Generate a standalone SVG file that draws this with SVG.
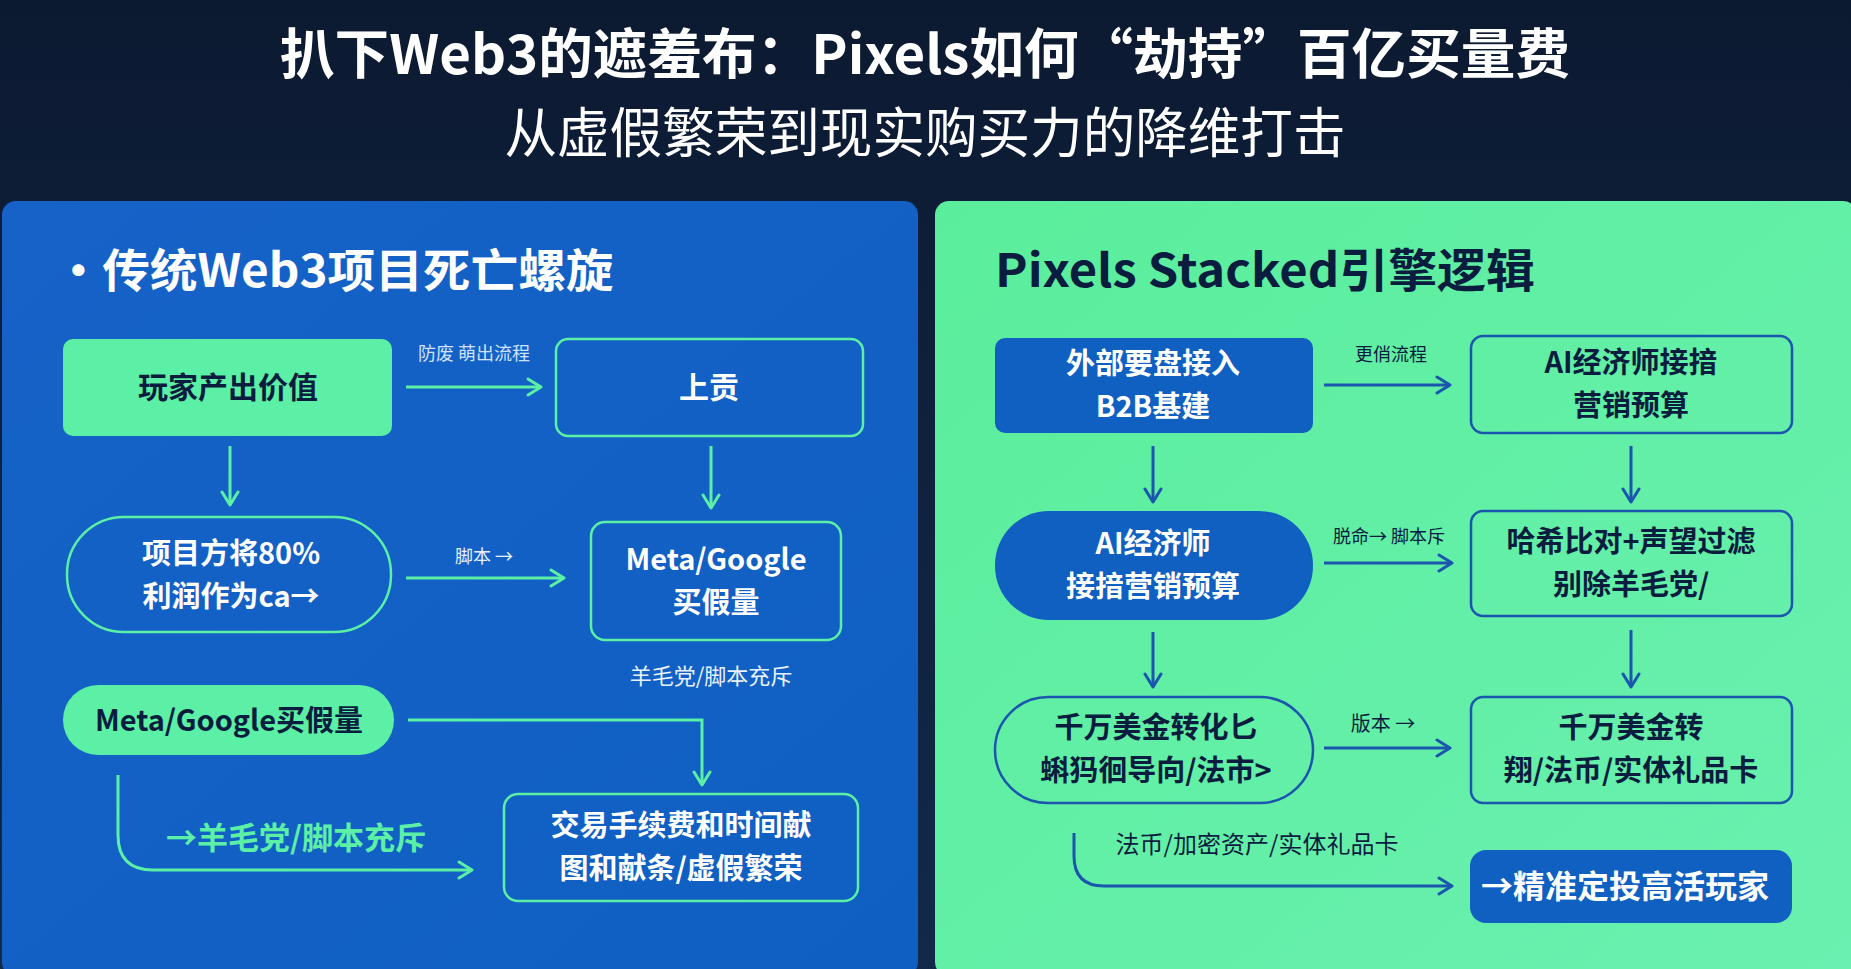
<svg xmlns="http://www.w3.org/2000/svg" width="1851" height="969" viewBox="0 0 1851 969">
<defs>
<linearGradient id="bg" x1="0" y1="0" x2="0" y2="1">
<stop offset="0" stop-color="#0c1a31"/>
<stop offset="1" stop-color="#12294a"/>
</linearGradient>
<linearGradient id="lp" x1="0" y1="0" x2="1" y2="1">
<stop offset="0" stop-color="#1662c8"/>
<stop offset="1" stop-color="#0f5fc2"/>
</linearGradient>
<linearGradient id="rp" x1="0" y1="0" x2="1" y2="1">
<stop offset="0" stop-color="#5aee9c"/>
<stop offset="1" stop-color="#6af0b0"/>
</linearGradient>
<marker id="ag" viewBox="0 0 20 20" refX="17" refY="10" markerWidth="20" markerHeight="20" markerUnits="userSpaceOnUse" orient="auto">
<path d="M4,2 L17,10 L4,18" fill="none" stroke="#5cf0a6" stroke-width="3" stroke-linecap="round" stroke-linejoin="round"/>
</marker>
<marker id="ab" viewBox="0 0 20 20" refX="17" refY="10" markerWidth="20" markerHeight="20" markerUnits="userSpaceOnUse" orient="auto">
<path d="M4,2 L17,10 L4,18" fill="none" stroke="#1a56ad" stroke-width="3" stroke-linecap="round" stroke-linejoin="round"/>
</marker>
</defs>
<style>
text{font-family:"Noto Sans CJK SC","Noto Sans",sans-serif;text-anchor:middle}
.t{font-weight:700;fill:#ffffff}
.b{font-weight:700}
.w{fill:#ffffff}
.d{fill:#0b1d3e}
.n{font-size:30px;font-weight:700}
.m{font-size:29px;font-weight:700}
.s{font-size:18px}
.gl{fill:none;stroke:#5cf0a6;stroke-width:3}
.bl{fill:none;stroke:#1a56ad;stroke-width:3}
.lbox{fill:none;stroke:#5cf0a6;stroke-width:2.5}
.rbox{fill:none;stroke:#1a56ad;stroke-width:2.5}
</style>
<rect x="0" y="0" width="1851" height="969" fill="url(#bg)"/>
<text class="t" x="925" y="74" font-size="54" textLength="1290" lengthAdjust="spacingAndGlyphs">扒下Web3的遮羞布：Pixels如何“劫持”百亿买量费</text>
<text class="w" x="925" y="153" font-size="54" textLength="841" lengthAdjust="spacingAndGlyphs">从虚假繁荣到现实购买力的降维打击</text>

<rect x="2" y="201" width="916" height="775" rx="14" fill="url(#lp)"/>
<rect x="935" y="201" width="922" height="775" rx="14" fill="url(#rp)"/>

<text class="t" x="334" y="287" font-size="46" textLength="559" lengthAdjust="spacingAndGlyphs">•传统Web3项目死亡螺旋</text>
<text class="b d" x="1265" y="287" font-size="46" textLength="540" lengthAdjust="spacingAndGlyphs">Pixels Stacked引擎逻辑</text>

<g id="connectors">
<line class="gl" x1="406" y1="387" x2="541" y2="387" marker-end="url(#ag)"/>
<line class="gl" x1="230" y1="446" x2="230" y2="505" marker-end="url(#ag)"/>
<line class="gl" x1="711" y1="446" x2="711" y2="508" marker-end="url(#ag)"/>
<line class="gl" x1="406" y1="578" x2="564" y2="578" marker-end="url(#ag)"/>
<path class="gl" d="M408,720 L702,720 L702,785" marker-end="url(#ag)"/>
<path class="gl" d="M118,775 L118,835 Q118,870 153,870 L472,870" marker-end="url(#ag)"/>
<text class="s" x="474" y="360" fill="#cfe2ff">防废 萌出流程</text>
<text class="s" x="484" y="563" fill="#e6f0ff">脚本 →</text>
<text x="711" y="684" font-size="22" fill="#e8f2ff">羊毛党/脚本充斥</text>
<text class="b" x="296" y="849" font-size="31" fill="#5cf0a6">→羊毛党/脚本充斥</text>

<line class="bl" x1="1324" y1="385" x2="1450" y2="385" marker-end="url(#ab)"/>
<line class="bl" x1="1153" y1="446" x2="1153" y2="502" marker-end="url(#ab)"/>
<line class="bl" x1="1631" y1="446" x2="1631" y2="502" marker-end="url(#ab)"/>
<line class="bl" x1="1324" y1="563" x2="1452" y2="563" marker-end="url(#ab)"/>
<line class="bl" x1="1153" y1="632" x2="1153" y2="687" marker-end="url(#ab)"/>
<line class="bl" x1="1631" y1="630" x2="1631" y2="687" marker-end="url(#ab)"/>
<line class="bl" x1="1324" y1="748" x2="1450" y2="748" marker-end="url(#ab)"/>
<path class="bl" d="M1074,833 L1074,856 Q1074,886 1104,886 L1452,886" marker-end="url(#ab)"/>
<text class="s d" x="1391" y="361">更俏流程</text>
<text class="s d" x="1389" y="543">脱命→ 脚本斥</text>
<text x="1383" y="731" font-size="20" class="d">版本 →</text>
<text x="1257" y="853" font-size="24" class="d">法币/加密资产/实体礼品卡</text>
</g>

<g id="n-player">
<rect x="63" y="339" width="329" height="97" rx="10" fill="#5cf0a6"/>
<text class="n d" x="228" y="398">玩家产出价值</text>
</g>
<g id="n-tribute">
<rect class="lbox" x="556" y="339" width="307" height="97" rx="12" fill="#135dc0"/>
<text class="n w" x="709" y="398">上贡</text>
</g>
<g id="n-project">
<rect class="lbox" x="67" y="517" width="324" height="115" rx="57"/>
<text class="m w" x="231" y="564">项目方将80%</text>
<text class="m w" x="231" y="607">利润作为ca→</text>
</g>
<g id="n-meta1">
<rect class="lbox" x="591" y="522" width="250" height="118" rx="14"/>
<text class="m w" x="716" y="570">Meta/Google</text>
<text class="m w" x="716" y="613">买假量</text>
</g>
<g id="n-meta2">
<rect x="63" y="685" width="331" height="70" rx="35" fill="#5cf0a6"/>
<text class="d" x="229" y="731" font-size="29" font-weight="700">Meta/Google买假量</text>
</g>
<g id="n-fee">
<rect class="lbox" x="504" y="794" width="354" height="107" rx="14"/>
<text class="m w" x="681" y="836">交易手续费和时间献</text>
<text class="m w" x="681" y="879">图和献条/虚假繁荣</text>
</g>

<g id="n-b2b">
<rect x="995" y="338" width="318" height="95" rx="10" fill="#1060c2"/>
<text class="m w" x="1153" y="374">外部要盘接入</text>
<text class="m w" x="1153" y="417">B2B基建</text>
</g>
<g id="n-ai1">
<rect class="rbox" x="1471" y="336" width="321" height="97" rx="12"/>
<text class="m d" x="1631" y="373">AI经济师接揞</text>
<text class="m d" x="1631" y="416">营销预算</text>
</g>
<g id="n-ai2">
<rect x="995" y="511" width="318" height="109" rx="54" fill="#1060c2"/>
<text class="m w" x="1153" y="554">AI经济师</text>
<text class="m w" x="1153" y="597">接揞营销预算</text>
</g>
<g id="n-hash">
<rect class="rbox" x="1471" y="511" width="321" height="105" rx="12"/>
<text class="m d" x="1631" y="552">哈希比对+声望过滤</text>
<text class="m d" x="1631" y="595">别除羊毛党/</text>
</g>
<g id="n-conv1">
<rect class="rbox" x="995" y="697" width="318" height="106" rx="53"/>
<text class="m d" x="1156" y="738">千万美金转化匕</text>
<text class="m d" x="1156" y="781">蝌犸徊导向/法市&gt;</text>
</g>
<g id="n-conv2">
<rect class="rbox" x="1471" y="697" width="321" height="106" rx="12"/>
<text class="m d" x="1631" y="738">千万美金转</text>
<text class="m d" x="1631" y="781">翔/法币/实体礼品卡</text>
</g>
<g id="n-target">
<rect x="1470" y="850" width="322" height="73" rx="16" fill="#1060c2"/>
<text class="w" x="1625" y="898" font-size="32" font-weight="700">→精准定投高活玩家</text>
</g>
</svg>
